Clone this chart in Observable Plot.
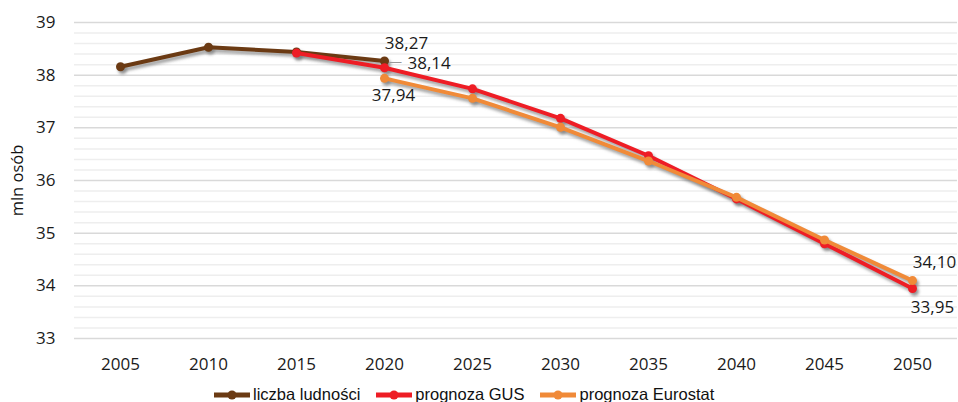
<!DOCTYPE html>
<html><head><meta charset="utf-8">
<script src="https://cdn.jsdelivr.net/npm/d3@7"></script>
<script src="https://cdn.jsdelivr.net/npm/@observablehq/plot@0.6"></script>
<style>
body{margin:0;background:#fff;width:958px;height:402px;overflow:hidden;position:relative;}
#chart g[aria-label*="tick label"]{font-size:17px;}
#legend{position:absolute;left:213px;top:385px;display:flex;align-items:center;font-family:"Liberation Sans",Arial,sans-serif;font-size:16.5px;color:#111;white-space:nowrap;}
#legend .it{display:flex;align-items:center;margin-right:15px;}
#legend svg{margin-right:2px;}
</style></head><body>
<div id="chart"></div>
<div id="legend"></div>
<script>
const years = [2005, 2010, 2015, 2020, 2025, 2030, 2035, 2040, 2045, 2050];
const seriesNames = ["liczba ludności", "prognoza GUS", "prognoza Eurostat"];
const seriesColors = ["#6b3a13", "#ee1d25", "#f08a38"];
const ludnoscYears = [2005, 2010, 2015, 2020];
const ludnosc = [38.16, 38.53, 38.44, 38.27];
const gusYears = [2015, 2020, 2025, 2030, 2035, 2040, 2045, 2050];
const gus = [38.42, 38.14, 37.74, 37.18, 36.47, 35.65, 34.80, 33.95];
const euroYears = [2020, 2025, 2030, 2035, 2040, 2045, 2050];
const eurostat = [37.94, 37.56, 37.01, 36.37, 35.68, 34.87, 34.10];
const yTicks = [33, 34, 35, 36, 37, 38, 39];
const minorTicks = d3.range(33, 39.001, 0.2).filter(v => Math.abs(v - Math.round(v)) > 1e-6);

const mk = (ys, vs) => ys.map((y, i) => ({year: y, value: vs[i]}));
const series = [mk(ludnoscYears, ludnosc), mk(gusYears, gus), mk(euroYears, eurostat)];

const labels = [
  {year: 2020, value: 38.27, text: "38,27", dx: 22, dy: -17, anchor: "middle"},
  {year: 2020, value: 38.14, text: "38,14", dx: 23, dy: -4, anchor: "start"},
  {year: 2020, value: 37.94, text: "37,94", dx: 9, dy: 17, anchor: "middle"},
  {year: 2050, value: 34.10, text: "34,10", dx: 22, dy: -18, anchor: "middle"},
  {year: 2050, value: 33.95, text: "33,95", dx: 20, dy: 19, anchor: "middle"}
];

const FONT = "'Open Sans', sans-serif";
const SH = "#7a7a7a";
const marks = [
  Plot.ruleY(minorTicks, {stroke: "#eeeeee", strokeWidth: 1.5}),
  Plot.ruleY(yTicks, {stroke: "#d9d9d9", strokeWidth: 1.5}),
  Plot.axisX({tickSize: 0, tickPadding: 19, fontSize: 17, label: null, tickFormat: d => String(d), fill: "#1a1a1a"}),
  Plot.axisY({ticks: yTicks, tickSize: 0, tickPadding: 19, fontSize: 17, label: null, tickFormat: d => String(d), fill: "#1a1a1a"}),
  Plot.text(["mln osób"], {frameAnchor: "left", dx: -57, rotate: -90, textAnchor: "middle", fontSize: 16.5, fill: "#111"})
];
series.forEach(s => {
  marks.push(Plot.line(s, {x: "year", y: "value", stroke: SH, strokeWidth: 4, dx: 2, dy: 3, strokeOpacity: 0.7}));
  marks.push(Plot.dot(s, {x: "year", y: "value", fill: SH, r: 4.5, dx: 2, dy: 3, fillOpacity: 0.7}));
});
series.forEach((s, i) => {
  marks.push(Plot.line(s, {x: "year", y: "value", stroke: seriesColors[i], strokeWidth: 4}));
  marks.push(Plot.dot(s, {x: "year", y: "value", fill: seriesColors[i], r: 4.5}));
});
marks.push(Plot.text([labels[1]], {x: "year", y: "value", text: () => "—", dx: 11, dy: -6, fontSize: 13, fill: "#999"}));
labels.forEach(l => {
  marks.push(Plot.text([l], {x: "year", y: "value", text: "text", dx: l.dx, dy: l.dy, textAnchor: l.anchor, fontSize: 17, fill: "#1a1a1a"}));
});

const chart = Plot.plot({
  width: 958,
  height: 376,
  marginLeft: 74,
  marginRight: 1,
  marginTop: 22,
  marginBottom: 38,
  style: {fontFamily: FONT, fontSize: "17px", color: "#1a1a1a", background: "#fff"},
  x: {type: "point", domain: years, padding: 0.5},
  y: {domain: [33, 39]},
  marks
});
const ns = "http://www.w3.org/2000/svg";
const defs = document.createElementNS(ns, "defs");
defs.innerHTML = '<filter id="sh" x="-10%" y="-10%" width="120%" height="140%"><feGaussianBlur stdDeviation="1.6"/></filter>';
chart.insertBefore(defs, chart.firstChild);
chart.querySelectorAll(`[stroke="${SH}"],[fill="${SH}"]`).forEach(g => g.setAttribute("filter", "url(#sh)"));
chart.querySelectorAll('g[aria-label*="tick label"]').forEach(g => g.setAttribute("font-size", "17"));
document.getElementById("chart").appendChild(chart);

const leg = d3.select("#legend");
seriesNames.forEach((n, i) => {
  const it = leg.append("div").attr("class", "it");
  const s = it.append("svg").attr("width", 38).attr("height", 12);
  s.append("line").attr("x1", 1).attr("x2", 37).attr("y1", 6).attr("y2", 6).attr("stroke", seriesColors[i]).attr("stroke-width", 5);
  s.append("circle").attr("cx", 19).attr("cy", 6).attr("r", 4.5).attr("fill", seriesColors[i]);
  it.append("span").text(n);
});
</script>
</body></html>
